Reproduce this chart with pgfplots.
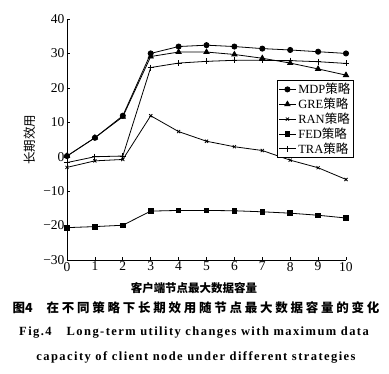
\documentclass[border=0pt]{standalone}
\usepackage{fontspec}
\setmainfont{Liberation Serif}
\newfontfamily\cjk{Noto Sans CJK SC}
\usepackage{pgfplots}
\pgfplotsset{compat=1.18}
\newcommand{\cjsp}{\hspace{0.22em}}
\begin{document}
\begin{tikzpicture}
\begin{axis}[
  scale only axis, width=279pt, height=241pt,
  xmin=0, xmax=10, ymin=-30, ymax=40,
  axis x line*=bottom, axis y line*=left,
  axis line style={line width=0.8pt, -},
  tick style={black, line width=0.7pt},
  tick align=inside, major tick length=3.5pt,
  xtick={0,1,...,10},
  ytick={-30,-20,-10,0,10,20,30,40},
  yticklabels={−30,−20,−10,0,10,20,30,40},
  /pgf/number format/assume math mode=true,
  ticklabel style={font=\fontsize{13.5}{13.5}\selectfont},
  xticklabel style={yshift=1.5pt},
  yticklabel style={xshift=1pt},
  ylabel={\cjk\fontsize{12.5}{12.5}\selectfont 长期效用},
  ylabel style={at={(axis description cs:-0.10,0.5)}, anchor=south},
  legend style={at={(axis description cs:0.753,0.747)}, anchor=north west,
    font=\fontsize{12.5}{12.5}\selectfont, draw=black, line width=0.8pt,
    inner sep=1pt, row sep=-1.2pt, cells={anchor=west}},
  legend cell align=left,
  every axis plot/.append style={black, line width=0.8pt, mark size=2.6pt},
  clip=false,
]
\addplot[mark=*] coordinates {(0,0.2)(1,5.5)(2,11.9)(3,30)(4,32)(5,32.4)(6,32)(7,31.4)(8,31)(9,30.5)(10,30)};
\addlegendentry{MDP{\cjk 策略}}
\addplot[mark=triangle*, mark size=3pt] coordinates {(0,0.2)(1,5.5)(2,11.6)(3,29.1)(4,30.4)(5,30.4)(6,29.7)(7,28.6)(8,27.2)(9,25.5)(10,23.7)};
\addlegendentry{GRE{\cjk 策略}}
\addplot[mark=x, mark size=2.2pt] coordinates {(0,-3.1)(1,-1.2)(2,-0.8)(3,11.9)(4,7.3)(5,4.5)(6,2.9)(7,1.8)(8,-1.0)(9,-3.2)(10,-6.6)};
\addlegendentry{RAN{\cjk 策略}}
\addplot[mark=square*, mark size=2.3pt] coordinates {(0,-20.6)(1,-20.3)(2,-19.9)(3,-15.8)(4,-15.6)(5,-15.6)(6,-15.7)(7,-16)(8,-16.4)(9,-17)(10,-17.8)};
\addlegendentry{FED{\cjk 策略}}
\addplot[mark=+, mark size=3pt] coordinates {(0,-1.7)(1,0)(2,0.2)(3,25.9)(4,27.2)(5,27.7)(6,28)(7,28)(8,27.9)(9,27.6)(10,27.1)};
\addlegendentry{TRA{\cjk 策略}}
\end{axis}
\path[use as bounding box] (-67pt,-113pt) rectangle (322pt,260pt);
\node at (127pt,-28pt) {\cjk\bfseries\fontsize{11.5}{12}\selectfont 客户端节点最大数据容量};
\node at (129pt,-48pt) {\cjk\bfseries\fontsize{12.5}{13}\selectfont 图4\hspace{1.1em}在\cjsp 不\cjsp 同\cjsp 策\cjsp 略\cjsp 下\cjsp 长\cjsp 期\cjsp 效\cjsp 用\cjsp 随\cjsp 节\cjsp 点\cjsp 最\cjsp 大\cjsp 数\cjsp 据\cjsp 容\cjsp 量\cjsp 的\cjsp 变\cjsp 化};
\node at (127pt,-73pt) {\bfseries\fontsize{12.5}{13}\selectfont\addfontfeatures{LetterSpace=11.5} Fig.4\hspace{1.2em}Long-term utility changes with maximum data};
\node at (129pt,-97pt) {\bfseries\fontsize{12.5}{13}\selectfont\addfontfeatures{LetterSpace=11.5} capacity of client node under different strategies};
\end{tikzpicture}
\end{document}
